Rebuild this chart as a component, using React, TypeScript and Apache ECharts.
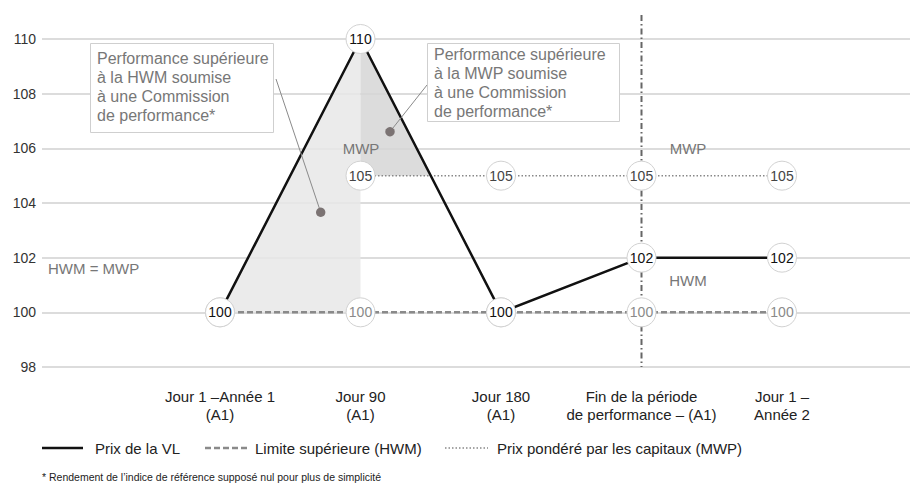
import React, { useEffect, useRef } from "react";
import * as echarts from "echarts";

const categories = [
  "Jour 1 –Année 1\n(A1)",
  "Jour 90\n(A1)",
  "Jour 180\n(A1)",
  "Fin de la période\nde performance – (A1)",
  "Jour 1 –\nAnnée 2",
];
const xPositions = [0, 1, 2, 3, 4];
const vlValues = [100, 110, 100, 102, 102];
const hwmValues = [100, 100, 100, 100, 100];
const mwpValues: (number | null)[] = [null, 105, 105, 105, 105];
const yMin = 98;
const yMax = 110;
const yStep = 2;
const periodEndIndex = 3;
const seriesNames = [
  "Prix de la VL",
  "Limite supérieure (HWM)",
  "Prix pondéré par les capitaux (MWP)",
];
const annotationHWM = "Performance supérieure\nà la HWM soumise\nà une Commission\nde performance*";
const annotationMWP = "Performance supérieure\nà la MWP soumise\nà une Commission\nde performance*";
const regionLabels = ["MWP", "MWP", "HWM = MWP", "HWM"];
const footnote = "* Rendement de l’indice de référence supposé nul pour plus de simplicité";

const FONT = '"Liberation Sans", Arial, sans-serif';

export default function App() {
  const ref = useRef<HTMLDivElement>(null);
  useEffect(() => {
    if (!ref.current) return;
    const chart = echarts.init(ref.current, undefined, { renderer: "svg" });

    const toPairs = (vals: (number | null)[]) =>
      xPositions
        .map((x, i) => (vals[i] == null ? null : [x, vals[i] as number]))
        .filter((p) => p !== null) as number[][];

    const symbolStyle = (labelColor: string) => ({
      symbol: "circle",
      symbolSize: 29,
      itemStyle: { color: "#ffffff", borderColor: "#d2d2d2", borderWidth: 1 },
      label: {
        show: true,
        position: "inside",
        fontSize: 14,
        fontFamily: FONT,
        color: labelColor,
        formatter: (p: any) => String(p.value[1]),
      },
      emphasis: { disabled: true },
    });

    const textGray = "#777777";

    const option: any = {
      animation: false,
      grid: { left: 42, right: 0, top: 39, bottom: 120 },
      xAxis: {
        type: "value",
        min: -178 / 140.5,
        max: -178 / 140.5 + 868 / 140.5,
        axisLine: { show: false },
        axisTick: { show: false },
        splitLine: { show: false },
        axisLabel: {
          customValues: xPositions,
          formatter: (v: number) => categories[Math.round(v)] ?? "",
          fontSize: 15,
          lineHeight: 18,
          fontFamily: FONT,
          color: "#222",
          margin: 20,
          align: "center",
        },
      },
      yAxis: {
        type: "value",
        min: yMin,
        max: yMax,
        interval: yStep,
        axisLine: { show: false },
        axisTick: { show: false },
        splitLine: { lineStyle: { color: "#d0d0d0", width: 1.5 } },
        axisLabel: { fontSize: 14, fontFamily: FONT, color: "#333", margin: 6 },
      },
      series: [
        {
          type: "custom",
          z: 1,
          silent: true,
          data: [[0, 100], [1, 105]],
          renderItem: (params: any, api: any) => {
            let pts: number[][];
            let fill: string;
            if (params.dataIndex === 0) {
              pts = [
                [xPositions[0], vlValues[0]],
                [xPositions[1], vlValues[1]],
                [xPositions[1], hwmValues[1]],
              ];
              fill = "#e8e8e8";
            } else {
              const y = mwpValues[1] as number;
              const xi =
                xPositions[1] +
                ((vlValues[1] - y) / (vlValues[1] - vlValues[2])) * (xPositions[2] - xPositions[1]);
              pts = [
                [xPositions[1], vlValues[1]],
                [xPositions[1], y],
                [xi, y],
              ];
              fill = "#d6d6d6";
            }
            return {
              type: "polygon",
              shape: { points: pts.map((p) => api.coord(p)) },
              style: { fill, opacity: 0.86 },
            };
          },
        },
        {
          type: "custom",
          z: 2,
          silent: true,
          data: [[xPositions[periodEndIndex], yMin]],
          renderItem: (_params: any, api: any) => {
            const b = api.coord([xPositions[periodEndIndex], yMin]);
            return {
              type: "line",
              shape: { x1: b[0], y1: 15, x2: b[0], y2: b[1] },
              style: { stroke: "#666", lineWidth: 2, lineDash: [6, 3, 1.5, 3] },
            };
          },
        },
        {
          name: seriesNames[2],
          type: "line",
          z: 3,
          data: toPairs(mwpValues),
          lineStyle: { color: "#888", width: 1.5, type: [1.5, 2] },
          ...symbolStyle("#444"),
        },
        {
          name: seriesNames[1],
          type: "line",
          z: 4,
          data: toPairs(hwmValues),
          lineStyle: { color: "#8a8a8a", width: 2.5, type: [6, 3] },
          ...symbolStyle("#8a8a8a"),
        },
        {
          name: seriesNames[0],
          type: "line",
          z: 5,
          data: toPairs(vlValues),
          lineStyle: { color: "#111", width: 2.5 },
          ...symbolStyle("#111"),
        },
      ],
      graphic: [
        {
          type: "rect",
          z: 50,
          shape: { x: 90.5, y: 43.5, width: 183, height: 89 },
          style: { fill: "#fff", stroke: "#cfcfcf", lineWidth: 1 },
        },
        {
          type: "text",
          z: 51,
          x: 97,
          y: 48.5,
          style: {
            text: annotationHWM,
            fontSize: 16,
            fontFamily: FONT,
            fill: textGray,
            lineHeight: 19,
            verticalAlign: "top",
          },
        },
        {
          type: "rect",
          z: 50,
          shape: { x: 427.5, y: 43.5, width: 192, height: 78 },
          style: { fill: "#fff", stroke: "#cfcfcf", lineWidth: 1 },
        },
        {
          type: "text",
          z: 51,
          x: 434,
          y: 44.5,
          style: {
            text: annotationMWP,
            fontSize: 16,
            fontFamily: FONT,
            fill: textGray,
            lineHeight: 19,
            verticalAlign: "top",
          },
        },
        {
          type: "line",
          z: 49,
          shape: { x1: 276, y1: 79, x2: 320.7, y2: 212.3 },
          style: { stroke: "#8a8a8a", lineWidth: 1 },
        },
        {
          type: "circle",
          z: 49,
          shape: { cx: 320.7, cy: 212.3, r: 4.7 },
          style: { fill: "#7b7373" },
        },
        {
          type: "line",
          z: 49,
          shape: { x1: 427, y1: 85, x2: 390, y2: 131.7 },
          style: { stroke: "#8a8a8a", lineWidth: 1 },
        },
        {
          type: "circle",
          z: 49,
          shape: { cx: 390, cy: 131.7, r: 4.7 },
          style: { fill: "#7b7373" },
        },
        ...[
          { x: 361, y: 148, align: "center" },
          { x: 688, y: 148, align: "center" },
          { x: 48, y: 268, align: "left" },
          { x: 688, y: 280, align: "center" },
        ].map((p, i) => ({
          type: "text",
          z: 48,
          x: p.x,
          y: p.y,
          style: {
            text: regionLabels[i],
            fontSize: 15,
            fontFamily: FONT,
            fill: textGray,
            align: p.align,
            verticalAlign: "middle",
          },
        })),
        {
          type: "line",
          shape: { x1: 42, y1: 448, x2: 83, y2: 448 },
          style: { stroke: "#111", lineWidth: 2.5 },
        },
        {
          type: "text",
          x: 95,
          y: 448,
          style: { text: seriesNames[0], fontSize: 15, fontFamily: FONT, fill: "#222", verticalAlign: "middle" },
        },
        {
          type: "line",
          shape: { x1: 205, y1: 448, x2: 247, y2: 448 },
          style: { stroke: "#8a8a8a", lineWidth: 2.5, lineDash: [6, 3] },
        },
        {
          type: "text",
          x: 255,
          y: 448,
          style: { text: seriesNames[1], fontSize: 15, fontFamily: FONT, fill: "#222", verticalAlign: "middle" },
        },
        {
          type: "line",
          shape: { x1: 445, y1: 448, x2: 488, y2: 448 },
          style: { stroke: "#888", lineWidth: 1.5, lineDash: [1.5, 2] },
        },
        {
          type: "text",
          x: 497,
          y: 448,
          style: { text: seriesNames[2], fontSize: 15, fontFamily: FONT, fill: "#222", verticalAlign: "middle" },
        },
        {
          type: "text",
          x: 42,
          y: 477,
          style: { text: footnote, fontSize: 10.5, fontFamily: FONT, fill: "#222", verticalAlign: "middle" },
        },
      ],
    };

    chart.setOption(option);
    return () => chart.dispose();
  }, []);

  return (
    <div
      ref={ref}
      style={{ position: "absolute", left: 0, top: 0, width: 910, height: 487, background: "#fff" }}
    />
  );
}
